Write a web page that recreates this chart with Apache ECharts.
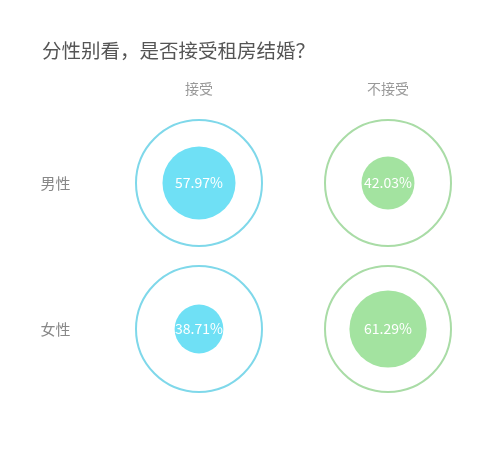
<!DOCTYPE html>
<html>
<head>
<meta charset="utf-8">
<script src="https://cdn.jsdelivr.net/npm/echarts@6/dist/echarts.min.js"></script>
<style>html,body{margin:0;padding:0;background:#fff;}#c{width:500px;height:464px;}</style>
</head>
<body>
<div id="c"></div>
<script>
const titleText = '分性别看，是否接受租房结婚？';
const columns = ['接受', '不接受'];
const rows = ['男性', '女性'];
const acceptValues = [57.97, 38.71];
const rejectValues = [42.03, 61.29];
const fullValue = 100;

const SCALE = 1.26; // px diameter per percent
const colors = {
  accept: { fill: '#6fe0f5', ring: '#7fd8ea' },
  reject: { fill: '#a3e3a0', ring: '#a9dca6' }
};

const chart = echarts.init(document.getElementById('c'));
const fontFamily = '"Noto Sans CJK SC", "Noto Sans", sans-serif';

function ringSeries(col, key) {
  return {
    type: 'scatter',
    silent: true,
    symbol: 'circle',
    symbolSize: fullValue * SCALE,
    itemStyle: { color: 'rgba(0,0,0,0)', borderColor: colors[key].ring, borderWidth: 2, opacity: 1 },
    data: rows.map(r => [col, r, fullValue]),
    z: 1
  };
}
function valueSeries(col, key, values) {
  return {
    type: 'scatter',
    symbol: 'circle',
    symbolSize: v => v[2] * SCALE,
    itemStyle: { color: colors[key].fill, opacity: 1 },
    label: {
      show: true,
      position: 'inside',
      color: '#fff',
      fontSize: 14,
      fontFamily: fontFamily,
      formatter: p => p.value[2].toFixed(2) + '%'
    },
    data: rows.map((r, i) => [col, r, values[i]]),
    z: 2
  };
}

chart.setOption({
  backgroundColor: '#fff',
  animation: false,
  title: {
    text: titleText,
    left: 37,
    top: 36,
    textStyle: { fontSize: 19.5, fontWeight: 'normal', color: '#555', fontFamily: fontFamily }
  },
  grid: { left: 104.5, right: 17.5, top: 110, bottom: 62 },
  xAxis: {
    type: 'category',
    position: 'top',
    data: columns,
    axisLine: { show: false },
    axisTick: { show: false },
    splitLine: { show: false },
    axisLabel: { color: '#999', fontSize: 14, margin: 14, fontFamily: fontFamily }
  },
  yAxis: {
    type: 'category',
    inverse: true,
    data: rows,
    axisLine: { show: false },
    axisTick: { show: false },
    splitLine: { show: false },
    axisLabel: { color: '#888', fontSize: 15, margin: 64, align: 'left', fontFamily: fontFamily }
  },
  series: [
    ringSeries(columns[0], 'accept'),
    ringSeries(columns[1], 'reject'),
    valueSeries(columns[0], 'accept', acceptValues),
    valueSeries(columns[1], 'reject', rejectValues)
  ]
});
</script>
</body>
</html>
